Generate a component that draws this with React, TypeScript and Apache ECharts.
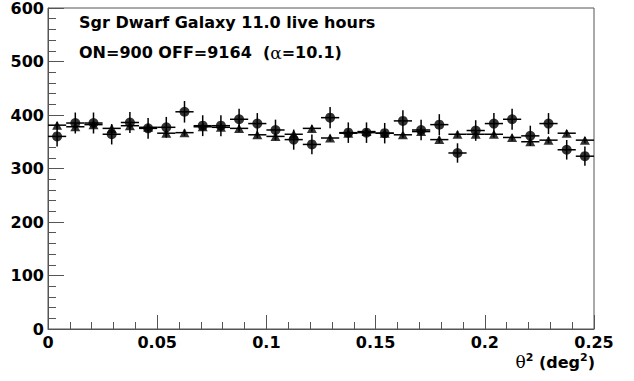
import React, { useEffect, useRef } from "react";
import * as echarts from "echarts";

// Histogram binning
const N_BINS = 30;
const X_MIN = 0;
const X_MAX = 0.25;
const ALPHA = 10.1;

// ON counts per bin (circles)
const onCounts = [
  360, 385, 385, 364, 386, 375, 377, 406, 380, 380,
  392, 384, 372, 354, 345, 395, 367, 367, 366, 389,
  372, 382, 329, 371, 384, 392, 361, 384, 335, 323,
];

// OFF counts scaled by 1/alpha per bin (triangles)
const offScaled = [
  381, 378, 382, 375, 380, 377, 366, 367, 378, 377,
  375, 363, 360, 364, 375, 357, 366, 369, 366, 363,
  369, 354, 364, 364, 364, 358, 350, 353, 366, 353,
];

const xTicks = [0, 0.05, 0.1, 0.15, 0.2, 0.25];
const yTicks = [0, 100, 200, 300, 400, 500, 600];

const titleLine1 = "Sgr Dwarf Galaxy 11.0 live hours";

const FONT = "DejaVu Sans";

export default function App() {
  const ref = useRef<HTMLDivElement>(null);

  useEffect(() => {
    if (!ref.current) return;
    const chart = echarts.init(ref.current, null, { renderer: "svg" });
    const bw = (X_MAX - X_MIN) / N_BINS;
    const centers = onCounts.map((_, i) => X_MIN + (i + 0.5) * bw);

    const onErr = onCounts.map((v, i) => {
      const e = Math.sqrt(v);
      return [centers[i], v, centers[i] - bw / 2, centers[i] + bw / 2, v - e, v + e];
    });
    const offErr = offScaled.map((v, i) => {
      const e = Math.sqrt(v / ALPHA);
      return [centers[i], v, centers[i] - bw / 2, centers[i] + bw / 2, v - e, v + e];
    });

    const renderErr = (params: any, api: any) => {
      const x = api.value(0);
      const y = api.value(1);
      const pL = api.coord([api.value(2), y]);
      const pR = api.coord([api.value(3), y]);
      const pB = api.coord([x, api.value(4)]);
      const pT = api.coord([x, api.value(5)]);
      const st = { stroke: "#000", lineWidth: 1.5 };
      return {
        type: "group",
        children: [
          { type: "line", shape: { x1: pL[0], y1: pL[1], x2: pR[0], y2: pR[1] }, style: st },
          { type: "line", shape: { x1: pB[0], y1: pB[1], x2: pT[0], y2: pT[1] }, style: st },
        ],
      };
    };

    const axisColor = "#555";

    chart.setOption({
      animation: false,
      backgroundColor: "#fff",
      grid: {
        left: 48,
        right: 40,
        top: 4,
        bottom: 52,
        show: true,
        borderColor: axisColor,
        borderWidth: 1,
        containLabel: false,
      },
      xAxis: {
        type: "value",
        min: xTicks[0],
        max: xTicks[xTicks.length - 1],
        interval: xTicks[1] - xTicks[0],
        axisLine: { show: true, lineStyle: { color: axisColor, width: 1 } },
        axisTick: { show: true, inside: true, length: 14, lineStyle: { color: axisColor } },
        minorTick: { show: true, splitNumber: 5, length: 7, lineStyle: { color: axisColor } },
        splitLine: { show: false },
        axisLabel: {
          show: true,
          margin: 5,
          color: "#000",
          fontFamily: FONT,
          fontWeight: "bold",
          fontSize: 16,
          showMinLabel: true,
          showMaxLabel: true,
          formatter: (v: number) => String(+v.toFixed(2)),
        },
      },
      yAxis: {
        type: "value",
        min: yTicks[0],
        max: yTicks[yTicks.length - 1],
        interval: yTicks[1] - yTicks[0],
        axisLine: { show: true, lineStyle: { color: axisColor, width: 1 } },
        axisTick: { show: true, inside: true, length: 16, lineStyle: { color: axisColor } },
        minorTick: { show: true, splitNumber: 5, length: 8, lineStyle: { color: axisColor } },
        splitLine: { show: false },
        axisLabel: {
          show: true,
          margin: 4,
          color: "#000",
          fontFamily: FONT,
          fontWeight: "bold",
          fontSize: 16,
          showMinLabel: true,
          showMaxLabel: true,
        },
      },
      graphic: [
        {
          type: "text",
          left: 79,
          top: 14,
          style: {
            text: titleLine1,
            fill: "#000",
            font: `bold 16px "${FONT}"`,
          },
        },
        {
          type: "text",
          left: 79,
          top: 44,
          style: {
            text: "{t|ON=900 OFF=9164  (}{g|α}{t|=10.1)}",
            rich: {
              t: { fontFamily: FONT, fontWeight: "bold", fontSize: 16, fill: "#000", color: "#000" },
              g: { fontFamily: "DejaVu Serif", fontWeight: "normal", fontSize: 17, color: "#000" },
            },
          },
        },
        {
          type: "text",
          right: 39,
          top: 352,
          style: {
            text: "{g|θ}{s|2}{t| (deg}{s|2}{t|)}",
            rich: {
              t: { fontFamily: FONT, fontWeight: "bold", fontSize: 16, color: "#000", lineHeight: 20 },
              g: { fontFamily: "DejaVu Serif", fontWeight: "normal", fontSize: 17, color: "#000", lineHeight: 20 },
              s: { fontFamily: FONT, fontWeight: "bold", fontSize: 11, color: "#000", lineHeight: 20, verticalAlign: "top", padding: [0, 0, 6, 0] },
            },
          },
        },
      ],
      series: [
        {
          type: "custom",
          name: "OFF err",
          renderItem: renderErr,
          data: offErr,
          encode: { x: 0, y: 1 },
          z: 1,
          silent: true,
        },
        {
          type: "custom",
          name: "ON err",
          renderItem: renderErr,
          data: onErr,
          encode: { x: 0, y: 1 },
          z: 2,
          silent: true,
        },
        {
          type: "scatter",
          name: "OFF",
          data: offScaled.map((v, i) => [centers[i], v]),
          symbol: "triangle",
          symbolSize: [10, 9],
          itemStyle: { color: "#000" },
          z: 3,
        },
        {
          type: "scatter",
          name: "ON",
          data: onCounts.map((v, i) => [centers[i], v]),
          symbol: "circle",
          symbolSize: 10,
          itemStyle: { color: "#000" },
          z: 4,
        },
      ],
    });
    return () => chart.dispose();
  }, []);

  return (
    <div
      ref={ref}
      style={{ position: "fixed", left: 0, top: 0, width: 634, height: 381, background: "#fff" }}
    />
  );
}
